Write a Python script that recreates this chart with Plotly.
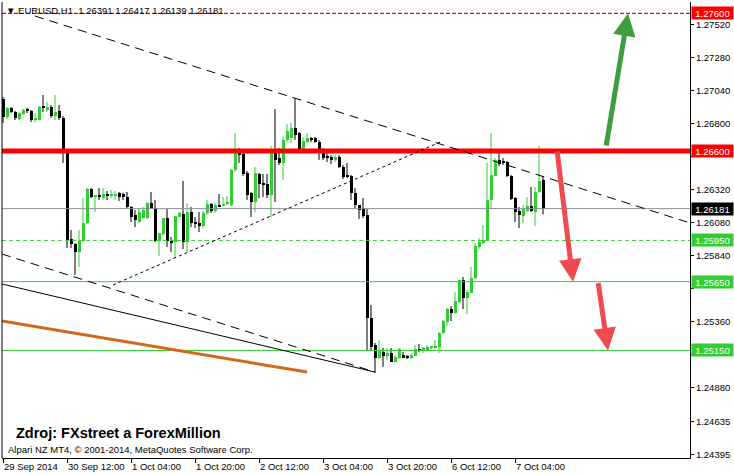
import plotly.graph_objects as go

# ---------------- data (EURUSD H1, 29 Sep 20:00 -> 7 Oct 11:00) ----------------
opens = [
    1.26978, 1.26847, 1.26913, 1.26884, 1.26833, 1.26869, 1.26898, 1.26891, 1.26825, 1.26825,
    1.26919, 1.26905, 1.26919, 1.26854, 1.26891, 1.26840, 1.26585, 1.25960, 1.25924, 1.25866,
    1.25946, 1.26077, 1.26324, 1.26266, 1.26273, 1.26258, 1.26287, 1.26280, 1.26280, 1.26295,
    1.26287, 1.26266, 1.26193, 1.26135, 1.26084, 1.26113, 1.26113, 1.26222, 1.26186, 1.25946,
    1.25997, 1.26113, 1.25946, 1.25938, 1.26120, 1.26142, 1.25938, 1.26157, 1.26084, 1.26077,
    1.26055, 1.26149, 1.26215, 1.26164, 1.26207, 1.26200, 1.26215, 1.26207, 1.26462, 1.26585,
    1.26578, 1.26440, 1.26295, 1.26229, 1.26433, 1.26360, 1.26360, 1.26280, 1.26585, 1.26549,
    1.26513, 1.26680, 1.26695, 1.26767, 1.26731, 1.26615, 1.26665, 1.26695, 1.26695, 1.26665,
    1.26585, 1.26564, 1.26556, 1.26535, 1.26556, 1.26484, 1.26426, 1.26418, 1.26295, 1.26207,
    1.26186, 1.26135, 1.25386, 1.25190, 1.25095, 1.25139, 1.25110, 1.25131, 1.25066, 1.25095,
    1.25117, 1.25110, 1.25095, 1.25110, 1.25161, 1.25146, 1.25153, 1.25168, 1.25168, 1.25175,
    1.25277, 1.25357, 1.25451, 1.25422, 1.25502, 1.25662, 1.25531, 1.25568, 1.25677, 1.25902,
    1.25931, 1.25946, 1.26244, 1.26418, 1.26535, 1.26520, 1.26520, 1.26418, 1.26258, 1.26164,
    1.26127, 1.26164, 1.26200, 1.26157, 1.26302, 1.26391,
]
highs = [
    1.26993, 1.26919, 1.26919, 1.26891, 1.26884, 1.26905, 1.26913, 1.26898, 1.26876, 1.26927,
    1.27007, 1.26956, 1.26934, 1.27007, 1.26934, 1.26854, 1.26593, 1.26026, 1.25931, 1.26026,
    1.26258, 1.26331, 1.26331, 1.26280, 1.26331, 1.26331, 1.26309, 1.26316, 1.26309, 1.26302,
    1.26295, 1.26302, 1.26200, 1.26171, 1.26186, 1.26193, 1.26229, 1.26302, 1.26244, 1.26004,
    1.26113, 1.26178, 1.25975, 1.26127, 1.26157, 1.26382, 1.26222, 1.26193, 1.26120, 1.26157,
    1.26164, 1.26244, 1.26222, 1.26222, 1.26287, 1.26266, 1.26273, 1.26469, 1.26731, 1.26622,
    1.26585, 1.26455, 1.26302, 1.26484, 1.26440, 1.26433, 1.26433, 1.26636, 1.26905, 1.26622,
    1.26702, 1.26796, 1.26804, 1.26985, 1.26738, 1.26702, 1.26731, 1.26702, 1.26702, 1.26680,
    1.26622, 1.26585, 1.26571, 1.26571, 1.26571, 1.26498, 1.26513, 1.26426, 1.26331, 1.26207,
    1.26258, 1.26178, 1.25480, 1.25204, 1.25226, 1.25168, 1.25168, 1.25168, 1.25117, 1.25168,
    1.25139, 1.25117, 1.25131, 1.25190, 1.25197, 1.25175, 1.25190, 1.25182, 1.25226, 1.25284,
    1.25371, 1.25459, 1.25473, 1.25575, 1.25662, 1.25684, 1.25590, 1.25757, 1.25931, 1.25968,
    1.26062, 1.26513, 1.26731, 1.26549, 1.26585, 1.26549, 1.26527, 1.26426, 1.26266, 1.26193,
    1.26207, 1.26266, 1.26338, 1.26338, 1.26636, 1.26417,
]
lows = [
    1.26804, 1.26833, 1.26876, 1.26825, 1.26825, 1.26862, 1.26876, 1.26811, 1.26811, 1.26825,
    1.26884, 1.26884, 1.26840, 1.26825, 1.26825, 1.26513, 1.25895, 1.25895, 1.25698, 1.25757,
    1.25938, 1.26069, 1.26258, 1.26157, 1.26244, 1.26244, 1.26244, 1.26258, 1.26244, 1.26236,
    1.26244, 1.26186, 1.26084, 1.26047, 1.26077, 1.26106, 1.26106, 1.26178, 1.25938, 1.25837,
    1.25982, 1.25902, 1.25866, 1.25822, 1.26120, 1.25888, 1.25866, 1.26047, 1.26040, 1.26011,
    1.26040, 1.26135, 1.26149, 1.26149, 1.26193, 1.26200, 1.26207, 1.26200, 1.26447, 1.26513,
    1.26418, 1.26244, 1.26120, 1.26157, 1.26258, 1.26266, 1.26258, 1.26120, 1.26229, 1.26498,
    1.26389, 1.26665, 1.26658, 1.26680, 1.26607, 1.26607, 1.26658, 1.26665, 1.26658, 1.26535,
    1.26535, 1.26520, 1.26505, 1.26520, 1.26476, 1.26396, 1.26404, 1.26244, 1.26186, 1.26106,
    1.26113, 1.25153, 1.25153, 1.24986, 1.25088, 1.25030, 1.25081, 1.25066, 1.25066, 1.25088,
    1.25095, 1.25088, 1.25088, 1.25110, 1.25139, 1.25131, 1.25146, 1.25161, 1.25161, 1.25131,
    1.25270, 1.25328, 1.25364, 1.25415, 1.25495, 1.25451, 1.25415, 1.25568, 1.25669, 1.25888,
    1.25924, 1.25946, 1.26178, 1.26418, 1.26491, 1.26498, 1.26411, 1.26244, 1.26084, 1.26040,
    1.26077, 1.26157, 1.26157, 1.26055, 1.26295, 1.26139,
]
closes = [
    1.26847, 1.26913, 1.26884, 1.26840, 1.26876, 1.26898, 1.26891, 1.26825, 1.26840, 1.26919,
    1.26913, 1.26919, 1.26854, 1.26884, 1.26840, 1.26585, 1.25953, 1.25924, 1.25866, 1.25946,
    1.26077, 1.26324, 1.26266, 1.26273, 1.26266, 1.26287, 1.26280, 1.26287, 1.26287, 1.26266,
    1.26266, 1.26193, 1.26120, 1.26098, 1.26157, 1.26171, 1.26222, 1.26186, 1.25946, 1.26004,
    1.26113, 1.25946, 1.25938, 1.26127, 1.26149, 1.25938, 1.26157, 1.26077, 1.26069, 1.26055,
    1.26149, 1.26215, 1.26164, 1.26207, 1.26200, 1.26215, 1.26222, 1.26462, 1.26585, 1.26571,
    1.26433, 1.26280, 1.26229, 1.26440, 1.26360, 1.26353, 1.26280, 1.26585, 1.26535, 1.26513,
    1.26680, 1.26745, 1.26767, 1.26716, 1.26615, 1.26673, 1.26695, 1.26680, 1.26665, 1.26585,
    1.26549, 1.26556, 1.26535, 1.26556, 1.26484, 1.26411, 1.26411, 1.26295, 1.26207, 1.26171,
    1.26127, 1.25386, 1.25175, 1.25095, 1.25153, 1.25110, 1.25131, 1.25066, 1.25102, 1.25161,
    1.25095, 1.25095, 1.25117, 1.25161, 1.25146, 1.25168, 1.25175, 1.25175, 1.25182, 1.25277,
    1.25364, 1.25451, 1.25422, 1.25510, 1.25662, 1.25531, 1.25575, 1.25677, 1.25909, 1.25938,
    1.25953, 1.26244, 1.26426, 1.26535, 1.26505, 1.26513, 1.26418, 1.26251, 1.26157, 1.26135,
    1.26178, 1.26200, 1.26164, 1.26302, 1.26382, 1.26181,
]

x_tick_bars = [0, 16, 32, 48, 64, 80, 96, 112, 128]
x_tick_labels = ["29 Sep 2014", "30 Sep 12:00", "1 Oct 04:00", "1 Oct 20:00", "2 Oct 12:00",
                 "3 Oct 04:00", "3 Oct 20:00", "6 Oct 12:00", "7 Oct 04:00"]
y_tick_values = [1.27520, 1.27280, 1.27040, 1.26800, 1.26560, 1.26320, 1.26080, 1.25840,
                 1.25600, 1.25360, 1.25120, 1.24880, 1.24635, 1.24395]

# horizontal levels
level_prices = [1.27600, 1.26600, 1.26181, 1.25950, 1.25650, 1.25150]

# trend lines: (bar index, price) pairs
trend_upper = [(8, 1.27581), (171.75, 1.26077)]
trend_dotted = [(27.5, 1.25626), (109.25, 1.26665)]
trend_lower_dash = [(-0.25, 1.25851), (93, 1.24993)]
trend_lower_solid = [(-0.25, 1.25633), (93, 1.24993)]
trend_orange = [(-0.25, 1.25364), (76, 1.24993)]

# arrows: (tail bar, tail price) -> (head bar, head price)
arrow_up = [(150.75, 1.26629), (156.25, 1.27600)]
arrow_down1 = [(138.5, 1.26607), (142.5, 1.25650)]
arrow_down2 = [(148.75, 1.25650), (151.25, 1.25150)]

header = "EURUSD,H1  1.26391 1.26417 1.26139 1.26181"

# ---------------- styling ----------------
GREEN = "#32CD32"
BLACK = "#000000"
FONT = "Liberation Sans"

n = len(opens)
idx = list(range(n))
is_up = [c > o for o, c in zip(opens, closes)]
colors = [GREEN if u else BLACK for u in is_up]
min_h = 0.00008
bases = [min(o, c) for o, c in zip(opens, closes)]
heights = [max(abs(c - o), min_h) for o, c in zip(opens, closes)]

fig = go.Figure()

for flag, col in [(True, GREEN), (False, BLACK)]:
    wx, wy = [], []
    for i in idx:
        if is_up[i] == flag:
            wx += [i, i, None]
            wy += [lows[i], highs[i], None]
    fig.add_trace(go.Scatter(x=wx, y=wy, mode="lines", line=dict(color=col, width=1),
                             hoverinfo="skip", showlegend=False))

fig.add_trace(go.Bar(x=idx, y=heights, base=bases, width=0.75,
                     marker=dict(color=colors, line=dict(width=0)),
                     hoverinfo="skip", showlegend=False))

shapes = []
level_styles = [
    dict(color="#FF0000", width=1.3, dash="4px,2px"),
    dict(color="#FF0000", width=5, dash="solid"),
    dict(color="#8A9099", width=1, dash="solid"),
    dict(color=GREEN, width=1, dash="4px,3px"),
    dict(color=GREEN, width=1, dash="solid"),
    dict(color=GREEN, width=1, dash="solid"),
]
for p, st in zip(level_prices, level_styles):
    shapes.append(dict(type="line", xref="paper", yref="y", x0=0, x1=1, y0=p, y1=p,
                       line=st, layer="above"))

def tl(pts, color, width, dash):
    (x0, y0), (x1, y1) = pts
    return dict(type="line", xref="x", yref="y", x0=x0, y0=y0, x1=x1, y1=y1,
                line=dict(color=color, width=width, dash=dash), layer="above")

shapes.append(tl(trend_upper, BLACK, 1, "9px,6px"))
shapes.append(tl(trend_dotted, BLACK, 1, "3px,3px"))
shapes.append(tl(trend_lower_dash, BLACK, 1, "9px,6px"))
shapes.append(tl(trend_lower_solid, BLACK, 1, "solid"))
shapes.append(tl(trend_orange, "#D2691E", 3, "solid"))
shapes.append(dict(type="line", xref="paper", yref="paper", x0=0, x1=0, y0=0, y1=1,
                   line=dict(color=BLACK, width=1)))

annotations = []
box_bg = ["#FF0000", "#FF0000", "#000000", GREEN, GREEN, GREEN]
for p, bg in zip(level_prices, box_bg):
    annotations.append(dict(xref="paper", yref="y", x=1, y=p, xanchor="left", yanchor="middle",
                            xshift=1, text=f"{p:.5f}", showarrow=False, bgcolor=bg,
                            font=dict(family=FONT, size=9.5, color="white"),
                            width=41, height=12, borderpad=0, align="center"))

for pts, col in [(arrow_up, "#3C9E3C"), (arrow_down1, "#F04A4E"), (arrow_down2, "#F04A4E")]:
    (tx, ty), (hx, hy) = pts
    annotations.append(dict(xref="x", yref="y", axref="x", ayref="y", x=hx, y=hy, ax=tx, ay=ty,
                            text="", showarrow=True, arrowhead=2, arrowsize=0.9,
                            arrowwidth=5, arrowcolor=col, standoff=0, startstandoff=0))

annotations.append(dict(xref="paper", yref="paper", x=0.003, y=0.981, xanchor="left",
                        yanchor="middle", showarrow=False,
                        text="\u25bc " + header,
                        font=dict(family=FONT, size=9.5, color=BLACK)))
annotations.append(dict(xref="paper", yref="paper", x=0.017, y=0.055, xanchor="left",
                        yanchor="middle", showarrow=False,
                        text="<b>Zdroj: FXstreet a ForexMillion</b>",
                        font=dict(family=FONT, size=14.5, color=BLACK)))
annotations.append(dict(xref="paper", yref="paper", x=0.006, y=0.018, xanchor="left",
                        yanchor="middle", showarrow=False,
                        text="Alpari NZ MT4, \u00a9 2001-2014, MetaQuotes Software Corp.",
                        font=dict(family=FONT, size=9.5, color=BLACK)))

# tick labels hidden behind the level boxes are left blank
hidden = {1.26560, 1.25600, 1.25120}
y_tick_text = ["" if v in hidden else f"{v:.5f}" for v in y_tick_values]

fig.update_layout(
    width=734, height=475,
    margin=dict(l=2, r=44, t=2, b=17, autoexpand=False),
    paper_bgcolor="white", plot_bgcolor="white",
    showlegend=False, barmode="overlay", bargap=0,
    shapes=shapes, annotations=annotations,
    xaxis=dict(range=[-0.25, 171.75], tickmode="array", tickvals=x_tick_bars,
               ticktext=x_tick_labels, ticks="outside", ticklen=4, tickcolor=BLACK,
               showline=True, linecolor=BLACK, linewidth=1, showgrid=False, zeroline=False,
               ticklabelposition="outside right", tickangle=0, automargin=False,
               tickfont=dict(family=FONT, size=9.5, color=BLACK), fixedrange=True),
    yaxis=dict(range=[1.243681, 1.276832], side="right", tickmode="array",
               tickvals=y_tick_values, ticktext=y_tick_text,
               ticks="outside", ticklen=3, tickcolor=BLACK, automargin=False,
               showline=True, linecolor=BLACK, linewidth=1, showgrid=False, zeroline=False,
               tickfont=dict(family=FONT, size=9.5, color=BLACK), fixedrange=True),
)

fig.write_html("out.html", config={"displayModeBar": False},
               post_script="document.body.style.margin='0';document.body.style.overflow='hidden';")
